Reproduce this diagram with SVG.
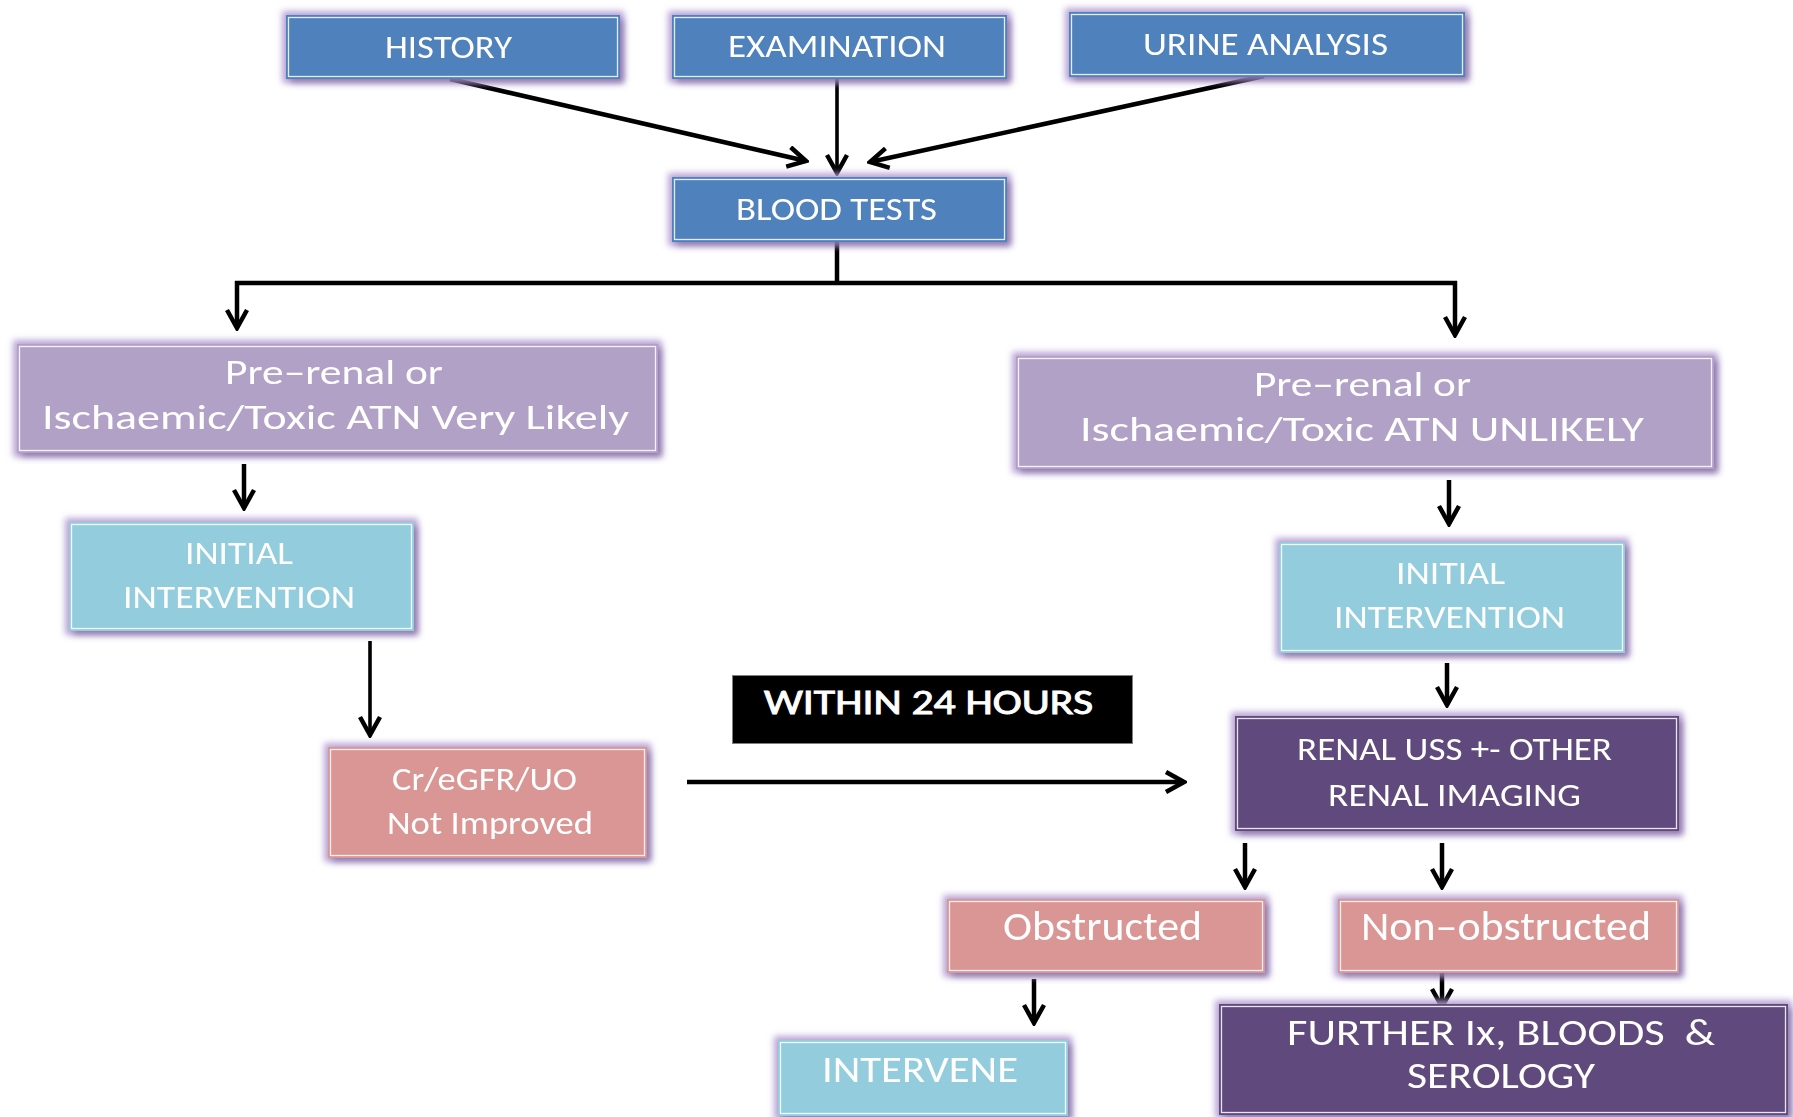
<svg xmlns="http://www.w3.org/2000/svg" width="1793" height="1117" viewBox="0 0 1793 1117">
  <defs>
    <style>
      .lbl { font-family: "Carlito", "Open Sans", "Liberation Sans", sans-serif; fill: #ffffff; white-space: pre; }
      .blue { fill: #4f81bd; }
      .lilac { fill: #b2a1c7; }
      .cyan { fill: #93cddd; }
      .rose { fill: #d99694; }
      .plum { fill: #604a7b; }
      .edge { fill: none; stroke: #ffffff; stroke-width: 1.3; stroke-opacity: 0.85; }
      .wire { fill: none; stroke: #000000; stroke-width: 4.5; stroke-linecap: butt; }
      .thin { stroke-width: 3.6; }
    </style>
    <!-- soft lavender halo plus a darker drop shade to the lower right -->
    <filter id="glow" x="-10%" y="-25%" width="120%" height="150%">
      <feMorphology in="SourceAlpha" operator="dilate" radius="4" result="grow"/>
      <feGaussianBlur in="grow" stdDeviation="3" result="haloA"/>
      <feFlood flood-color="#b49ed3" flood-opacity="0.9"/>
      <feComposite in2="haloA" operator="in" result="halo"/>
      <feOffset in="SourceAlpha" dx="4" dy="4" result="off"/>
      <feGaussianBlur in="off" stdDeviation="3" result="offB"/>
      <feFlood flood-color="#6b4f8c" flood-opacity="0.6"/>
      <feComposite in2="offB" operator="in" result="shade"/>
      <feMerge>
        <feMergeNode in="halo"/>
        <feMergeNode in="shade"/>
        <feMergeNode in="SourceGraphic"/>
      </feMerge>
    </filter>
    <marker id="head" viewBox="0 0 24 24" refX="21" refY="12" markerWidth="24" markerHeight="24" markerUnits="userSpaceOnUse" orient="auto">
      <path d="M3,2 L21,12 L3,22" fill="none" stroke="#000000" stroke-width="4.5" stroke-linejoin="miter"/>
    </marker>
  </defs>

  <rect width="1793" height="1117" fill="#ffffff"/>

  <!-- connectors -->
  <g id="connectors">
    <line class="wire" x1="450" y1="79" x2="806" y2="161" marker-end="url(#head)"/>
    <line class="wire thin" x1="837" y1="79" x2="837" y2="173" marker-end="url(#head)"/>
    <line class="wire" x1="1264" y1="76" x2="870" y2="162" marker-end="url(#head)"/>
    <polyline class="wire" points="837,242 837,283"/>
    <polyline class="wire" points="235,283 1457,283"/>
    <line class="wire" x1="237" y1="281" x2="237" y2="328" marker-end="url(#head)"/>
    <line class="wire" x1="1455" y1="281" x2="1455" y2="335" marker-end="url(#head)"/>
    <line class="wire" x1="244" y1="464" x2="244" y2="508" marker-end="url(#head)"/>
    <line class="wire thin" x1="370" y1="641" x2="370" y2="735" marker-end="url(#head)"/>
    <line class="wire" x1="687" y1="782" x2="1184" y2="782" marker-end="url(#head)"/>
    <line class="wire" x1="1449" y1="480" x2="1449" y2="524" marker-end="url(#head)"/>
    <line class="wire" x1="1447" y1="663" x2="1447" y2="705" marker-end="url(#head)"/>
    <line class="wire" x1="1245" y1="843" x2="1245" y2="887" marker-end="url(#head)"/>
    <line class="wire" x1="1442" y1="843" x2="1442" y2="887" marker-end="url(#head)"/>
    <line class="wire" x1="1034" y1="979" x2="1034" y2="1023" marker-end="url(#head)"/>
    <line class="wire" x1="1442" y1="963" x2="1442" y2="1007" marker-end="url(#head)"/>
  </g>

  <!-- top row of inputs -->
  <g id="history" filter="url(#glow)">
    <rect class="blue" x="286" y="15" width="334" height="64"/>
    <rect class="edge" x="288.5" y="17.5" width="329" height="59"/>
    <text class="lbl" x="385" y="58" font-size="33" textLength="127" lengthAdjust="spacingAndGlyphs">HISTORY</text>
  </g>
  <g id="examination" filter="url(#glow)">
    <rect class="blue" x="672" y="15" width="335" height="64"/>
    <rect class="edge" x="674.5" y="17.5" width="330" height="59"/>
    <text class="lbl" x="728" y="57" font-size="33" textLength="218" lengthAdjust="spacingAndGlyphs">EXAMINATION</text>
  </g>
  <g id="urine-analysis" filter="url(#glow)">
    <rect class="blue" x="1069" y="12" width="396" height="65"/>
    <rect class="edge" x="1071.5" y="14.5" width="391" height="60"/>
    <text class="lbl" x="1143" y="55" font-size="33" textLength="245" lengthAdjust="spacingAndGlyphs">URINE ANALYSIS</text>
  </g>
  <g id="blood-tests" filter="url(#glow)">
    <rect class="blue" x="672" y="177" width="335" height="65"/>
    <rect class="edge" x="674.5" y="179.5" width="330" height="60"/>
    <text class="lbl" x="736" y="220" font-size="33" textLength="201" lengthAdjust="spacingAndGlyphs">BLOOD TESTS</text>
  </g>

  <!-- left branch -->
  <g id="atn-likely" filter="url(#glow)">
    <rect class="lilac" x="17" y="344" width="641" height="109"/>
    <rect class="edge" x="19.5" y="346.5" width="636" height="104"/>
    <text class="lbl" x="225" y="384" font-size="35" textLength="218" lengthAdjust="spacingAndGlyphs">Pre–renal or</text>
    <text class="lbl" x="42" y="429" font-size="35" textLength="587" lengthAdjust="spacingAndGlyphs">Ischaemic/Toxic ATN Very Likely</text>
  </g>
  <g id="initial-left" filter="url(#glow)">
    <rect class="cyan" x="69" y="522" width="345" height="109"/>
    <rect class="edge" x="71.5" y="524.5" width="340" height="104"/>
    <text class="lbl" x="185" y="564" font-size="33" textLength="108" lengthAdjust="spacingAndGlyphs">INITIAL</text>
    <text class="lbl" x="123" y="608" font-size="33" textLength="232" lengthAdjust="spacingAndGlyphs">INTERVENTION</text>
  </g>
  <g id="not-improved" filter="url(#glow)">
    <rect class="rose" x="328" y="747" width="319" height="111"/>
    <rect class="edge" x="330.5" y="749.5" width="314" height="106"/>
    <text class="lbl" x="392" y="790" font-size="33" textLength="185" lengthAdjust="spacingAndGlyphs">Cr/eGFR/UO</text>
    <text class="lbl" x="387" y="834" font-size="33" textLength="206" lengthAdjust="spacingAndGlyphs">Not Improved</text>
  </g>

  <!-- time label -->
  <g id="within-24h">
    <rect x="732.5" y="675.5" width="400" height="68" fill="#000000" stroke="#7f7f7f" stroke-width="1"/>
    <text class="lbl" x="764" y="714" font-size="35" stroke="#ffffff" stroke-width="0.9" textLength="329" lengthAdjust="spacingAndGlyphs">WITHIN 24 HOURS</text>
  </g>

  <!-- right branch -->
  <g id="atn-unlikely" filter="url(#glow)">
    <rect class="lilac" x="1016" y="356" width="698" height="113"/>
    <rect class="edge" x="1018.5" y="358.5" width="693" height="108"/>
    <text class="lbl" x="1254" y="396" font-size="35" textLength="217" lengthAdjust="spacingAndGlyphs">Pre–renal or</text>
    <text class="lbl" x="1080" y="441" font-size="35" textLength="564" lengthAdjust="spacingAndGlyphs">Ischaemic/Toxic ATN UNLIKELY</text>
  </g>
  <g id="initial-right" filter="url(#glow)">
    <rect class="cyan" x="1279" y="542" width="346" height="111"/>
    <rect class="edge" x="1281.5" y="544.5" width="341" height="106"/>
    <text class="lbl" x="1396" y="584" font-size="33" textLength="109" lengthAdjust="spacingAndGlyphs">INITIAL</text>
    <text class="lbl" x="1334" y="628" font-size="33" textLength="231" lengthAdjust="spacingAndGlyphs">INTERVENTION</text>
  </g>
  <g id="renal-imaging" filter="url(#glow)">
    <rect class="plum" x="1235" y="716" width="444" height="115"/>
    <rect class="edge" x="1237.5" y="718.5" width="439" height="110"/>
    <text class="lbl" x="1297" y="760" font-size="33" textLength="315" lengthAdjust="spacingAndGlyphs">RENAL USS +- OTHER</text>
    <text class="lbl" x="1328" y="806" font-size="33" textLength="253" lengthAdjust="spacingAndGlyphs">RENAL IMAGING</text>
  </g>
  <g id="obstructed" filter="url(#glow)">
    <rect class="rose" x="947" y="899" width="318" height="74"/>
    <rect class="edge" x="949.5" y="901.5" width="313" height="69"/>
    <text class="lbl" x="1003" y="940" font-size="40" textLength="199" lengthAdjust="spacingAndGlyphs">Obstructed</text>
  </g>
  <g id="non-obstructed" filter="url(#glow)">
    <rect class="rose" x="1338" y="899" width="341" height="74"/>
    <rect class="edge" x="1340.5" y="901.5" width="336" height="69"/>
    <text class="lbl" x="1361" y="940" font-size="40" textLength="290" lengthAdjust="spacingAndGlyphs">Non–obstructed</text>
  </g>
  <g id="intervene" filter="url(#glow)">
    <rect class="cyan" x="778" y="1040" width="290" height="76"/>
    <rect class="edge" x="780.5" y="1042.5" width="285" height="71"/>
    <text class="lbl" x="822" y="1082" font-size="36" textLength="196" lengthAdjust="spacingAndGlyphs">INTERVENE</text>
  </g>
  <g id="further-ix" filter="url(#glow)">
    <rect class="plum" x="1219" y="1004" width="569" height="111"/>
    <rect class="edge" x="1221.5" y="1006.5" width="564" height="106"/>
    <text class="lbl" x="1287" y="1045" font-size="36" textLength="428" lengthAdjust="spacingAndGlyphs">FURTHER Ix, BLOODS  &amp;</text>
    <text class="lbl" x="1407" y="1088" font-size="36" textLength="188" lengthAdjust="spacingAndGlyphs">SEROLOGY</text>
  </g>
</svg>
